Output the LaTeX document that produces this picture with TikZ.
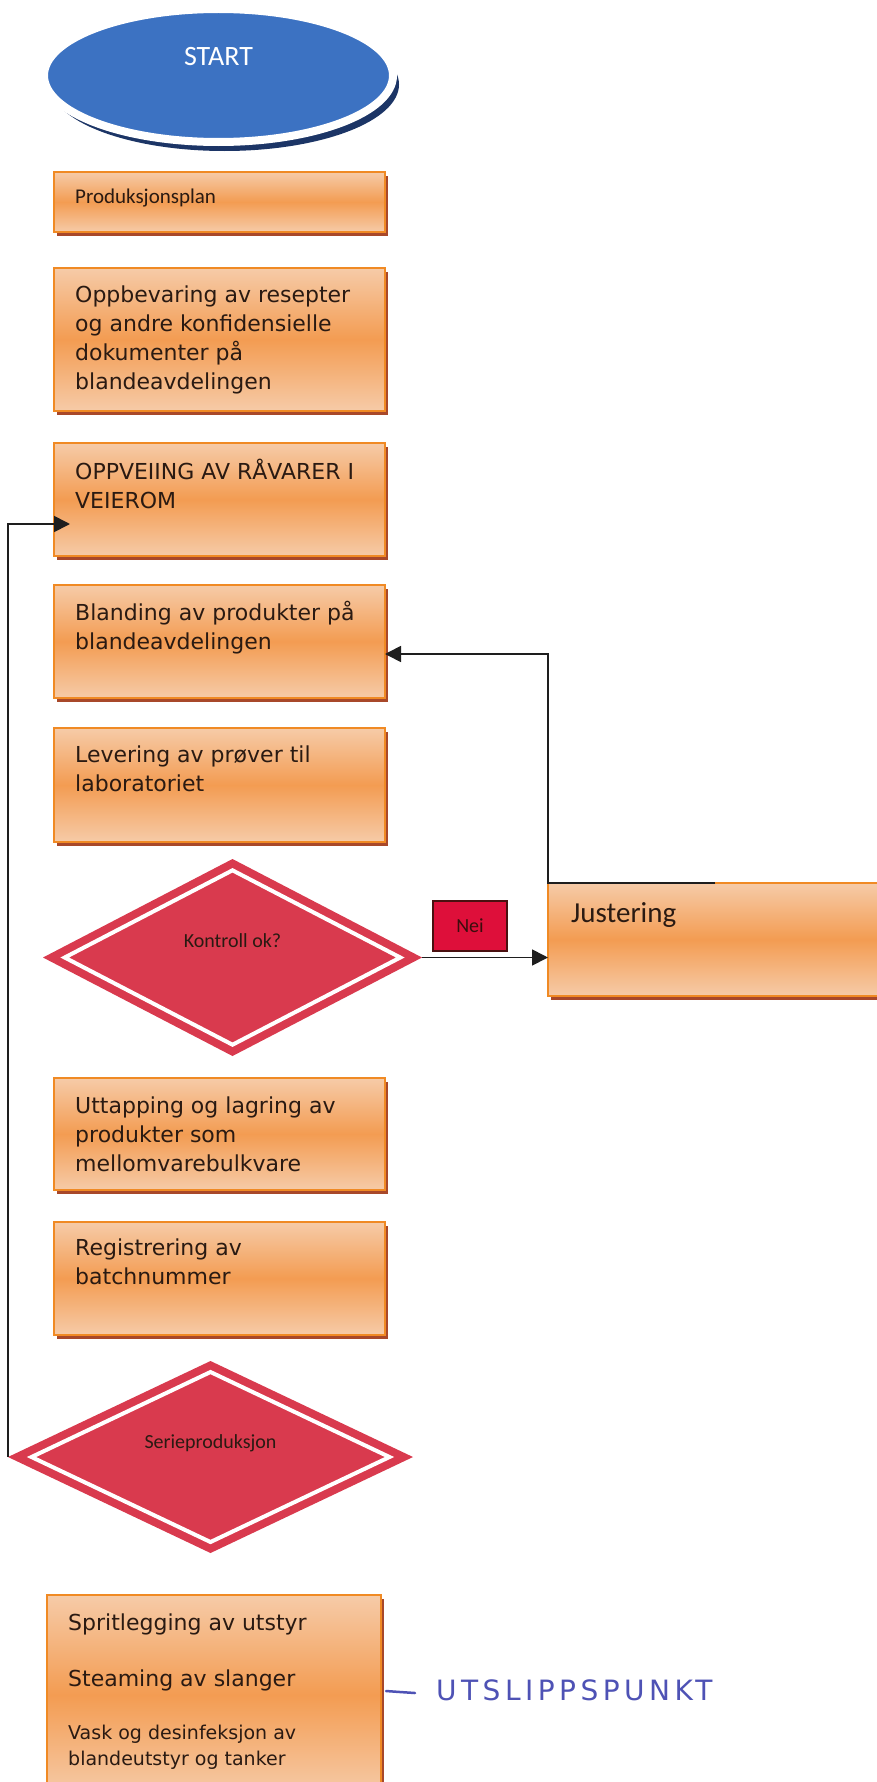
\documentclass[tikz,border=0pt]{standalone}
\usepackage{fontspec}
\setmainfont{DejaVu Sans}
\newfontfamily\calfont{Carlito}
\newfontfamily\handfont[LetterSpace=16]{DejaVu Sans}
\usetikzlibrary{shapes.geometric,shadows,arrows.meta}

\definecolor{peach}{HTML}{F6CBA8}
\definecolor{orangemid}{HTML}{F39C52}
\definecolor{boxedge}{HTML}{F08A24}
\definecolor{boxshadow}{HTML}{A8482A}
\definecolor{dred}{HTML}{D93A4E}
\definecolor{neired}{HTML}{DE0F3A}
\definecolor{neiedge}{HTML}{4A1010}
\definecolor{startblue}{HTML}{3C72C2}
\definecolor{navy}{HTML}{1C3566}
\definecolor{inkdark}{HTML}{2A1A12}
\definecolor{pen}{HTML}{4E52B5}
\definecolor{connink}{HTML}{1E1E1E}

% first-line strut so the top anchor of a text block is predictable
\newcommand\topstrut[1]{\rule{0pt}{#1}}

\tikzset{
  stepbox/.style={rectangle, draw=boxedge, line width=1.5pt,
    top color=peach, bottom color=peach, middle color=orangemid,
    minimum width=331pt, inner sep=0pt, outer sep=0pt,
    drop shadow={shadow xshift=3pt, shadow yshift=-4pt, fill=boxshadow, opacity=1}},
  btxt/.style={font=\fontsize{22}{29}\selectfont, align=left, inner sep=0pt, text=inkdark},
  ctxt/.style={font=\calfont\fontsize{20}{24}\selectfont, inner sep=0pt, text=inkdark},
  decision/.style={diamond, fill=dred, draw=none, inner sep=0pt, outer sep=0pt},
  decisionline/.style={diamond, draw=white, line width=4pt, inner sep=0pt, outer sep=0pt},
  conn/.style={draw=connink, line width=1.7pt, -{Triangle[length=16pt,width=16pt]}},
}

\begin{document}
\begin{tikzpicture}[x=1pt, y=-1pt]
\useasboundingbox (0,0) rectangle (877,1782);
\clip (0,0) rectangle (877,1782);
\fill[white] (0,0) rectangle (877,1782);

% start terminal
\node[ellipse, fill=startblue, draw=white, line width=8pt,
      minimum width=349pt, minimum height=133pt, inner sep=0pt,
      drop shadow={shadow xshift=6pt, shadow yshift=-9pt, fill=navy, opacity=1}]
      (start) at (218.5,75.5) {};
\node[font=\calfont\fontsize{28}{32}\selectfont, text=white, inner sep=0pt, anchor=base]
      (startt) at ([shift={(0,-9.5)}]start.center) {START};

% process steps
\node[stepbox, minimum height=60pt]  (b1) at (219.5,202)   {};
\node[ctxt, font=\calfont\fontsize{21}{25}\selectfont, anchor=base west] (t1)
      at ([shift={(21,31)}]b1.north west) {Produksjonsplan};

\node[stepbox, minimum height=143pt] (b2) at (219.5,339.5) {};
\node[btxt, anchor=north west] (t2) at ([shift={(21,16)}]b2.north west)
  {\topstrut{18pt}Oppbevaring av resepter\\og andre konfidensielle\\dokumenter på\\blandeavdelingen};

\node[stepbox, minimum height=113pt] (b3) at (219.5,499.5) {};
\node[btxt, anchor=north west] (t3) at ([shift={(21,16)}]b3.north west)
  {\topstrut{18pt}OPPVEIING AV RÅVARER I\\VEIEROM};

\node[stepbox, minimum height=113pt] (b4) at (219.5,641.5) {};
\node[btxt, anchor=north west] (t4) at ([shift={(21,16)}]b4.north west)
  {\topstrut{18pt}Blanding av produkter på\\blandeavdelingen};

\node[stepbox, minimum height=114pt] (b5) at (219.5,785) {};
\node[btxt, anchor=north west] (t5) at ([shift={(21,16)}]b5.north west)
  {\topstrut{18pt}Levering av prøver til\\laboratoriet};

% quality check
\node[decision, minimum width=379pt, minimum height=197pt] (kon) at (232.5,957.5) {};
\node[decisionline, minimum width=335.6pt, minimum height=174.4pt] (koninner) at (kon.center) {};
\node[ctxt, anchor=base] (kont) at ([shift={(0,-10.5)}]kon.center) {Kontroll ok?};

\node[fill=neired, draw=neiedge, line width=1.5pt, minimum width=74pt, minimum height=50pt,
      inner sep=0pt, font=\calfont\fontsize{20}{24}\selectfont, text=neiedge!80!black]
      (nei) at (470,926) {Nei};

\node[stepbox, minimum width=334pt, minimum height=113pt] (just) at (715,939.5) {};
\node[font=\calfont\fontsize{29}{34}\selectfont, text=inkdark, inner sep=0pt, anchor=base west]
      (justt) at ([shift={(23,39)}]just.north west) {Justering};

\node[stepbox, minimum height=112pt] (b6) at (219.5,1134) {};
\node[btxt, anchor=north west] (t6) at ([shift={(21,17)}]b6.north west)
  {\topstrut{18pt}Uttapping og lagring av\\produkter som\\mellomvarebulkvare};

\node[stepbox, minimum height=113pt] (b7) at (219.5,1278.5) {};
\node[btxt, anchor=north west] (t7) at ([shift={(21,15)}]b7.north west)
  {\topstrut{18pt}Registrering av\\batchnummer};

% series decision
\node[decision, minimum width=405pt, minimum height=192pt] (ser) at (210.5,1457) {};
\node[decisionline, minimum width=358pt, minimum height=170pt] (serinner) at (ser.center) {};
\node[ctxt, anchor=base] (sert) at ([shift={(0,-9)}]ser.center) {Serieproduksjon};

% cleaning step
\node[stepbox, minimum width=334pt, minimum height=200pt] (b8) at (214,1695) {};
\node[btxt, anchor=base west] (t8a) at ([shift={(21,35)}]b8.north west) {Spritlegging av utstyr};
\node[btxt, anchor=base west] (t8b) at ([shift={(21,91)}]b8.north west) {Steaming av slanger};
\node[btxt, font=\fontsize{19}{26}\selectfont, anchor=north west] (t8c) at ([shift={(21,129)}]b8.north west)
  {\topstrut{15pt}Vask og desinfeksjon av\\blandeutstyr og tanker};

% handwritten note
\node[font=\handfont\fontsize{28}{32}\selectfont, text=pen, inner sep=0pt, anchor=west]
      (hand) at (436,1690) {UTSLIPPSPUNKT};
\draw[pen, line width=2.5pt, line cap=round]
  ([shift={(-50,1)}]hand.west) -- ([shift={(-36,2)}]hand.west) -- ([shift={(-21,3)}]hand.west);

% connectors
\coordinate (blin) at ([shift={(0,12.5)}]b4.east);
\coordinate (opin) at ([shift={(16,24.5)}]b3.west);
\draw[conn] (kon.east) -- (kon.east -| just.west);
\draw[conn] (just.north) -- (just.north west) |- (blin);
\draw[conn] (ser.west) |- (opin);
\end{tikzpicture}
\end{document}
